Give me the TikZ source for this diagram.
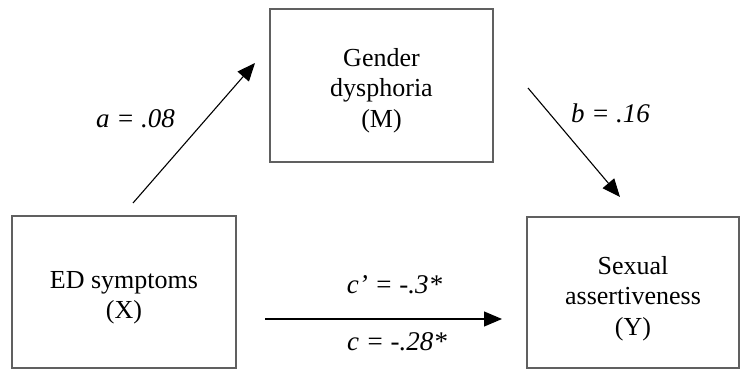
\documentclass[tikz,border=0pt]{standalone}
\usepackage{fontspec}
\setmainfont{Liberation Serif}
\usetikzlibrary{arrows.meta}
\definecolor{boxgray}{HTML}{606060}
\tikzset{
  varbox/.style={draw=boxgray, line width=2pt, inner sep=0pt},
  boxtext/.style={align=center, inner sep=0pt, font=\fontsize{26}{30.5}\selectfont},
  patharrow/.style={line width=1.1pt, -{Triangle[length=18pt,width=15pt]}},
  coef/.style={anchor=base, inner sep=0pt, font=\fontsize{27}{31}\selectfont\itshape}
}
\begin{document}
\begin{tikzpicture}[x=1pt,y=-1pt]
\useasboundingbox (0,0) rectangle (740,369);
\node[varbox, minimum width=224pt, minimum height=152pt] (X) at (124,292) {};
\node[varbox, minimum width=223pt, minimum height=153pt] (M) at (381.5,85.5) {};
\node[varbox, minimum width=212pt, minimum height=151pt] (Y) at (633,292.5) {};
\node[boxtext] (Xt) at ([yshift=-6pt]X.center) {ED symptoms\\(X)};
\node[boxtext] (Mt) at ([yshift=-5pt]M.center) {Gender\\dysphoria\\(M)};
\node[boxtext] (Yt) at ([yshift=-6pt]Y.center) {Sexual\\assertiveness\\(Y)};
\coordinate (a1) at (133,203);
\coordinate (a2) at (255,63);
\coordinate (b1) at (528,88);
\coordinate (b2) at (620,197);
\coordinate (c1) at (265,319);
\coordinate (c2) at (502,319);
\draw[patharrow] (a1) -- (a2);
\draw[patharrow] (b1) -- (b2);
\draw[patharrow] (c1) -- (c2);
\node[coef] (la) at (135.5,128) {a = .08};
\node[coef] (lb) at (610.5,122) {b = .16};
\node[coef] (lc1) at (394.5,293) {c’ = -.3*};
\node[coef] (lc2) at (397,350) {c = -.28*};
\end{tikzpicture}
\end{document}
